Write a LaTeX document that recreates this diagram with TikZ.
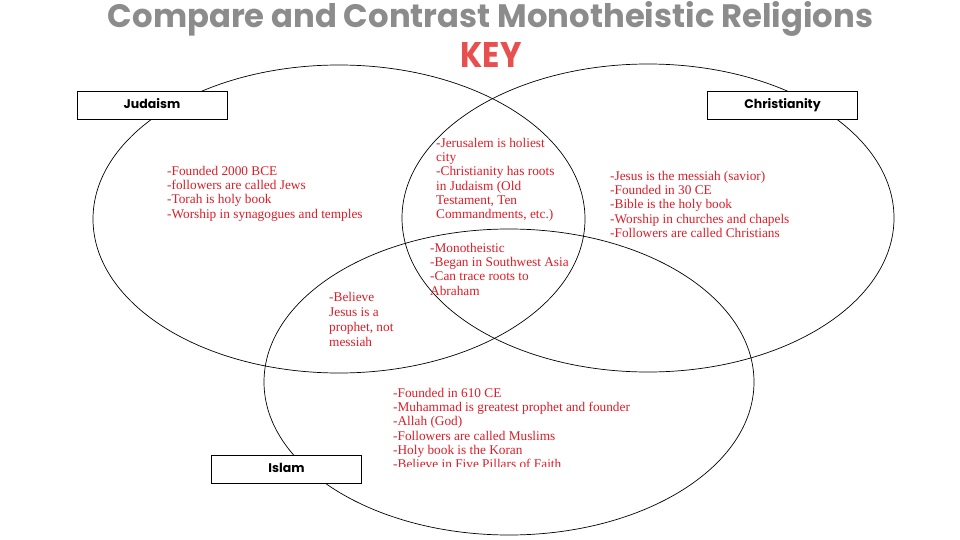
\documentclass[tikz,border=0pt]{standalone}
\usepackage{fontspec}
\setmainfont{Liberation Serif}
\newfontfamily\labelfont{Poppins}
\usepackage{graphicx}
\definecolor{txtred}{RGB}{220,30,40}
\definecolor{keyred}{RGB}{232,80,80}
\definecolor{titlegray}{RGB}{140,140,140}
\tikzset{
  venn/.style={draw=black, line width=0.7pt},
  namebox/.style={draw=black, line width=0.8pt, fill=white, minimum width=150pt, minimum height=28pt, inner sep=0pt, font=\labelfont\bfseries\fontsize{12.5}{13}\selectfont},
  info/.style={anchor=north west, inner sep=0pt, align=left, text=txtred, font=\fontsize{13.3}{14.3}\selectfont},
}
\begin{document}
\begin{tikzpicture}[x=1pt, y=-1pt]
\useasboundingbox (0,0) rectangle (960,540);
\fill[white] (0,0) rectangle (960,540);
% title
\node[inner sep=0pt, text=titlegray] (title) at (490.5,19) {\resizebox{765pt}{26pt}{\labelfont\bfseries Compare and Contrast Monotheistic Religions}};
\node[inner sep=0pt, text=keyred] (key) at (491,55) {\resizebox{61pt}{25pt}{\labelfont\bfseries KEY}};
% ellipses
\draw[venn] (339,219) ellipse [x radius=246pt, y radius=154pt];
\draw[venn] (648,218) ellipse [x radius=246pt, y radius=154pt];
\draw[venn] (509,382) ellipse [x radius=245pt, y radius=153pt];
% boxes
\node[namebox] (jud) at (152,105) {\raisebox{3pt}{Judaism}};
\node[namebox] (chr) at (782.5,105) {\raisebox{3pt}{Christianity}};
\node[namebox] (isl) at (286.5,469) {\raisebox{3pt}{Islam}};
% texts
\node[info] (judtxt) at (167,165.9) {-Founded 2000 BCE\\-followers are called Jews\\-Torah is holy book\\-Worship in synagogues and temples};
\node[info] (jctxt) at (436,137.9) {-Jerusalem is holiest\\city\\-Christianity has roots\\in Judaism (Old\\Testament, Ten\\Commandments, etc.)};
\node[info] (alltxt) at (430,242.9) {-Monotheistic\\-Began in Southwest Asia\\-Can trace roots to\\Abraham};
\node[info, font=\fontsize{13.3}{15.2}\selectfont] (jitxt) at (329,291.9) {-Believe\\Jesus is a\\prophet, not\\messiah};
\node[info] (chrtxt) at (610,170.9) {-Jesus is the messiah (savior)\\-Founded in 30 CE\\-Bible is the holy book\\-Worship in churches and chapels\\-Followers are called Christians};
\begin{scope}
\clip (380,380) rectangle (720,466);
\node[info] (isltxt) at (393,387.9) {-Founded in 610 CE\\-Muhammad is greatest prophet and founder\\-Allah (God)\\-Followers are called Muslims\\-Holy book is the Koran\\-Believe in Five Pillars of Faith};
\end{scope}
\end{tikzpicture}
\end{document}
